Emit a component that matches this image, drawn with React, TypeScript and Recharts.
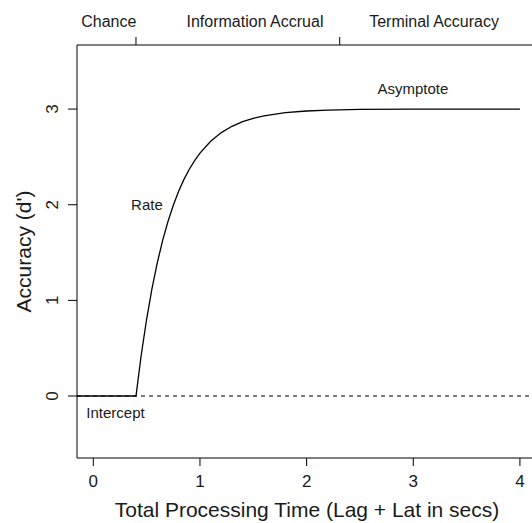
import { LineChart, Line, XAxis, YAxis, ReferenceLine, ReferenceArea, ReferenceDot } from 'recharts'

// processing time (s) and accuracy (d')
const time = [-0.153, 0, 0.4, 0.45, 0.5, 0.55, 0.6, 0.65, 0.7, 0.75, 0.8, 0.85, 0.9, 0.95, 1.0, 1.1, 1.2, 1.3, 1.4, 1.5, 1.6, 1.8, 2.0, 2.2, 2.5, 3.0, 3.5, 4.0]
const accuracy = [0, 0, 0, 0.434, 0.805, 1.123, 1.394, 1.627, 1.825, 1.995, 2.141, 2.265, 2.371, 2.462, 2.54, 2.663, 2.754, 2.82, 2.868, 2.904, 2.93, 2.962, 2.98, 2.989, 2.996, 2.999, 3.0, 3.0]

const xTicks = [0, 1, 2, 3, 4]
const yTicks = [0, 1, 2, 3]

// top "phase" axis
const phaseTicks = [0.4, 2.31]
const phaseLabels = ['Chance', 'Information Accrual', 'Terminal Accuracy']
const phaseLabelAt = [0.145, 1.516, 3.195]

// annotations inside the plot
const noteText = ['Rate', 'Asymptote', 'Intercept']
const noteT = [0.503, 2.997, 0.208]
const noteD = [2.0, 3.21, -0.178]

const data = time.map((t, i) => ({ t, d: accuracy[i] }))
const xDomain = [-0.153, 4.16]
const yDomain = [-0.648, 3.67]
const font = '"Liberation Sans", Arial, sans-serif'
const ink = '#1a1a1a'

function PhaseTick(props: any) {
  const { x, y, payload } = props
  const i = phaseLabelAt.indexOf(payload.value)
  if (i >= 0) {
    return (
      <text x={x} y={y - 18} textAnchor="middle" fontSize={16} fill={ink} fontFamily={font}>
        {phaseLabels[i]}
      </text>
    )
  }
  return <line x1={x} x2={x} y1={y} y2={y - 8} stroke="#000" strokeWidth={1} />
}

function YTick(props: any) {
  const { x, y, payload } = props
  return (
    <text x={x} y={y} transform={`rotate(-90 ${x} ${y})`} textAnchor="middle" fontSize={17} fill={ink} fontFamily={font}>
      {payload.value}
    </text>
  )
}

function XTitle(props: any) {
  const { x, y, width } = props.viewBox
  return (
    <text x={x + width / 2} y={y + 59} textAnchor="middle" fontSize={21} fill={ink} fontFamily={font}>
      Total Processing Time (Lag + Lat in secs)
    </text>
  )
}

function YTitle(props: any) {
  const { x, y, height } = props.viewBox
  const cx = x + 14
  const cy = y + height / 2
  return (
    <text x={cx} y={cy} transform={`rotate(-90 ${cx} ${cy})`} textAnchor="middle" fontSize={21} fill={ink} fontFamily={font}>
      Accuracy (d')
    </text>
  )
}

export default function App() {
  return (
    <div style={{ position: 'absolute', left: 0, top: 0, width: 532, height: 523, overflow: 'hidden', background: '#fff' }}>
      <LineChart width={545} height={523} data={data} margin={{ top: 15, right: 8, bottom: 35, left: 17 }} style={{ fontFamily: font }}>
        <XAxis
          dataKey="t"
          type="number"
          domain={xDomain}
          ticks={xTicks}
          interval={0}
          height={30}
          axisLine={false}
          tickLine={{ stroke: '#000' }}
          tickSize={8}
          tickMargin={9}
          tick={{ fontSize: 17, fill: ink }}
          allowDataOverflow
          label={<XTitle />}
        />
        <XAxis
          xAxisId="top"
          orientation="top"
          dataKey="t"
          type="number"
          domain={xDomain}
          ticks={[phaseLabelAt[0], phaseTicks[0], phaseLabelAt[1], phaseTicks[1], phaseLabelAt[2]]}
          interval={0}
          height={30}
          axisLine={false}
          tickLine={false}
          tickSize={0}
          tickMargin={0}
          tick={<PhaseTick />}
          allowDataOverflow
        />
        <YAxis
          type="number"
          domain={yDomain}
          ticks={yTicks}
          interval={0}
          width={60}
          axisLine={false}
          tickLine={{ stroke: '#000' }}
          tickSize={9}
          tickMargin={10}
          tick={<YTick />}
          allowDataOverflow
          label={<YTitle />}
        />
        <ReferenceArea x1={xDomain[0]} x2={xDomain[1]} y1={yDomain[0]} y2={yDomain[1]} fill="none" stroke="#000" strokeWidth={1} ifOverflow="visible" />
        <ReferenceLine y={0} stroke="#000" strokeDasharray="4 4" strokeWidth={1} />
        <Line type="linear" dataKey="d" stroke="#000" strokeWidth={1.3} dot={false} isAnimationActive={false} />
        {noteText.map((s, i) => (
          <ReferenceDot
            key={s}
            x={noteT[i]}
            y={noteD[i]}
            r={0}
            fill="none"
            stroke="none"
            label={{ value: s, position: 'center', fontSize: 15, fill: ink }}
          />
        ))}
      </LineChart>
    </div>
  )
}
